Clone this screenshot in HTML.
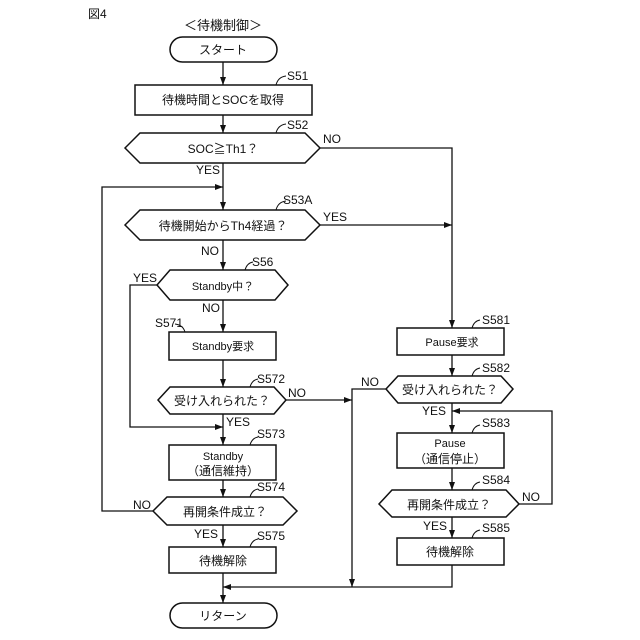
<!DOCTYPE html>
<html><head><meta charset="utf-8"><style>
html,body{margin:0;padding:0;background:#fff}
svg{display:block}
text{font-family:"Liberation Sans","Noto Sans CJK JP",sans-serif;font-size:12px;fill:#111}
.c{text-anchor:middle}
</style></head><body>
<svg width="640" height="640" viewBox="0 0 640 640" xmlns="http://www.w3.org/2000/svg">
<defs><marker id="a" markerWidth="8" markerHeight="6" refX="8" refY="3" orient="auto" markerUnits="userSpaceOnUse"><path d="M0,0 L8,3 L0,6 z" fill="#111"/></marker></defs>
<g fill="none" stroke="#111" stroke-width="1.5">
<rect x="170" y="37" width="107" height="25" rx="12.5"/>
<rect x="135" y="85" width="177" height="30"/>
<polygon points="125,148 140,133 305,133 320,148 305,163 140,163"/>
<polygon points="125,225 140,210 305,210 320,225 305,240 140,240"/>
<polygon points="157,285 170,270 275,270 288,285 275,300 170,300"/>
<rect x="169" y="332" width="107" height="28"/>
<polygon points="158,400 170,387 274,387 286,400 274,414 170,414"/>
<rect x="169" y="445" width="107" height="35"/>
<polygon points="153,511 167,497 283,497 297,511 283,525 167,525"/>
<rect x="169" y="547" width="107" height="26"/>
<rect x="170" y="603" width="107" height="25" rx="12.5"/>
<rect x="397" y="328" width="107" height="27"/>
<polygon points="386,389 398,376 501,376 513,389 501,403 398,403"/>
<rect x="397" y="433" width="107" height="35"/>
<polygon points="379,504 392,490 506,490 519,504 506,517 392,517"/>
<rect x="397" y="538" width="107" height="27"/>
</g>
<g fill="none" stroke="#111" stroke-width="1.3">
<line x1="223" y1="62" x2="223" y2="85" marker-end="url(#a)"/>
<line x1="223" y1="115" x2="223" y2="133" marker-end="url(#a)"/>
<line x1="223" y1="163" x2="223" y2="210" marker-end="url(#a)"/>
<line x1="223" y1="240" x2="223" y2="270" marker-end="url(#a)"/>
<line x1="223" y1="300" x2="223" y2="332" marker-end="url(#a)"/>
<line x1="223" y1="360" x2="223" y2="387" marker-end="url(#a)"/>
<line x1="223" y1="414" x2="223" y2="445" marker-end="url(#a)"/>
<line x1="223" y1="480" x2="223" y2="497" marker-end="url(#a)"/>
<line x1="223" y1="525" x2="223" y2="547" marker-end="url(#a)"/>
<line x1="223" y1="573" x2="223" y2="603" marker-end="url(#a)"/>
<polyline points="153,511 102,511 102,187 223,187" marker-end="url(#a)"/>
<polyline points="157,285 130,285 130,427 223,427" marker-end="url(#a)"/>
<polyline points="320,148 452,148 452,328" marker-end="url(#a)"/>
<line x1="320" y1="225" x2="452" y2="225" marker-end="url(#a)"/>
<line x1="286" y1="400" x2="352" y2="400" marker-end="url(#a)"/>
<polyline points="386,389 352,389 352,587" marker-end="url(#a)"/>
<polyline points="452,565 452,587 223,587" marker-end="url(#a)"/>
<line x1="452" y1="355" x2="452" y2="376" marker-end="url(#a)"/>
<line x1="452" y1="403" x2="452" y2="433" marker-end="url(#a)"/>
<line x1="452" y1="468" x2="452" y2="490" marker-end="url(#a)"/>
<line x1="452" y1="517" x2="452" y2="538" marker-end="url(#a)"/>
<polyline points="519,504 552,504 552,411 452,411" marker-end="url(#a)"/>
<g stroke-width="1">
<path d="M276,85 q2,-8 10,-9"/><path d="M276,133 q2,-8 10,-9"/><path d="M276,210 q2,-8 10,-9"/>
<path d="M245,270 q2,-7 8,-8"/><path d="M185,332 q-2,-7 -10,-8"/><path d="M250,387 q2,-7 8,-8"/>
<path d="M250,445 q2,-7 8,-8"/><path d="M250,497 q2,-7 8,-8"/><path d="M250,547 q2,-7 8,-8"/>
<path d="M472,328 q2,-7 8,-8"/><path d="M472,376 q2,-7 8,-8"/><path d="M472,433 q2,-7 8,-8"/>
<path d="M472,490 q2,-7 8,-8"/><path d="M472,538 q2,-7 8,-8"/>
</g>
</g>
<text x="88" y="18">図4</text>
<text x="223" y="30" class="c" style="font-size:13px">＜待機制御＞</text>
<text x="223" y="54" class="c">スタート</text>
<text x="223" y="104" class="c">待機時間とSOCを取得</text>
<text x="223" y="153" class="c">SOC≧Th1？</text>
<text x="223" y="230" class="c">待機開始からTh4経過？</text>
<text x="223" y="290" class="c" style="font-size:11px">Standby中？</text>
<text x="223" y="350" class="c" style="font-size:11px">Standby要求</text>
<text x="222" y="405" class="c">受け入れられた？</text>
<text x="223" y="460" class="c" style="font-size:11px">Standby</text>
<text x="223" y="475" class="c">（通信維持）</text>
<text x="225" y="516" class="c">再開条件成立？</text>
<text x="223" y="565" class="c">待機解除</text>
<text x="223" y="620" class="c">リターン</text>
<text x="452" y="346" class="c" style="font-size:11px">Pause要求</text>
<text x="450" y="394" class="c">受け入れられた？</text>
<text x="450" y="447" class="c" style="font-size:11px">Pause</text>
<text x="450" y="463" class="c">（通信停止）</text>
<text x="449" y="509" class="c">再開条件成立？</text>
<text x="450" y="556" class="c">待機解除</text>
<g style="font-size:11px">
<text x="287" y="80">S51</text><text x="287" y="129">S52</text><text x="283" y="204">S53A</text>
<text x="252" y="266">S56</text><text x="155" y="327">S571</text><text x="257" y="383">S572</text>
<text x="257" y="438">S573</text><text x="257" y="491">S574</text><text x="257" y="540">S575</text>
<text x="482" y="324">S581</text><text x="482" y="372">S582</text><text x="482" y="427">S583</text>
<text x="482" y="484">S584</text><text x="482" y="532">S585</text>
<text x="323" y="143">NO</text><text x="196" y="174">YES</text><text x="323" y="221">YES</text>
<text x="201" y="255">NO</text><text x="133" y="282">YES</text><text x="202" y="312">NO</text>
<text x="288" y="397">NO</text><text x="226" y="426">YES</text><text x="133" y="509">NO</text>
<text x="194" y="538">YES</text><text x="361" y="386">NO</text><text x="422" y="415">YES</text>
<text x="522" y="501">NO</text><text x="423" y="530">YES</text>
</g>
</svg>
</body></html>
